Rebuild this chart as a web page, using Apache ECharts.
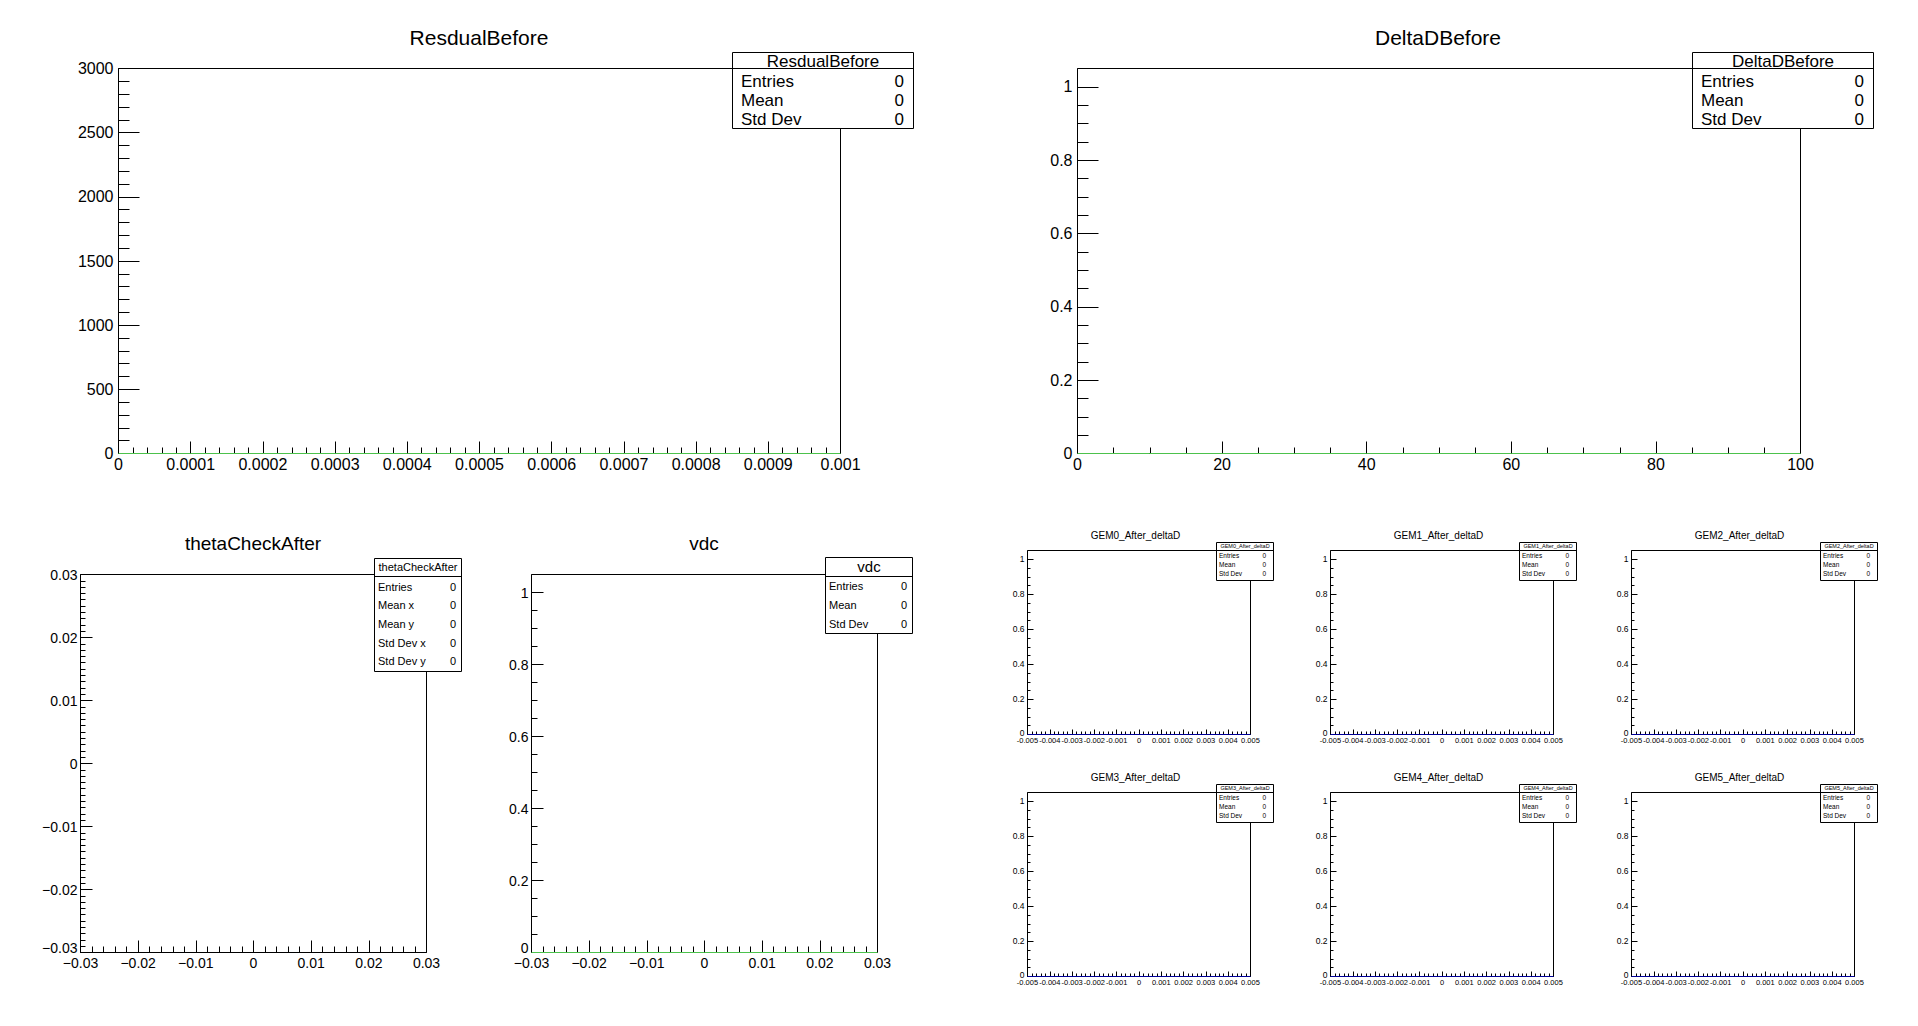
<!DOCTYPE html>
<html>
<head>
<meta charset="utf-8">
<script src="https://cdn.jsdelivr.net/npm/echarts@6/dist/echarts.min.js"></script>
<style>
html,body{margin:0;padding:0;background:#ffffff;}
#chart{width:1918px;height:1026px;}
</style>
</head>
<body>
<div id="chart"></div>
<script>
// ================= DATA =================
const panelTitles = ['ResdualBefore', 'DeltaDBefore', 'thetaCheckAfter', 'vdc'];
const gemTitles = ['GEM0_After_deltaD', 'GEM1_After_deltaD', 'GEM2_After_deltaD',
                   'GEM3_After_deltaD', 'GEM4_After_deltaD', 'GEM5_After_deltaD'];

// axis scales: [min, max, major step, minor step]
const resdualXScale = [0, 0.001, 0.0001, 0.00002];
const resdualYScale = [0, 3000, 500, 100];
const deltaDXScale  = [0, 100, 20, 5];
const deltaDYScale  = [0, 1.05, 0.2, 0.05];
const thetaXScale   = [-0.03, 0.03, 0.01, 0.002];
const thetaYScale   = [-0.03, 0.03, 0.01, 0.001];
const vdcXScale     = [-0.03, 0.03, 0.01, 0.002];
const vdcYScale     = [0, 1.05, 0.2, 0.05];
const gemXScale     = [-0.005, 0.005, 0.001, 0.0002];
const gemYScale     = [0, 1.05, 0.2, 0.05];

// histogram contents (all histograms are empty)
const resdualCounts = [0, 0, 0, 0, 0, 0, 0, 0, 0, 0];
const deltaDCounts  = [0, 0, 0, 0, 0, 0, 0, 0, 0, 0];
const vdcCounts     = [0, 0, 0, 0, 0, 0, 0, 0, 0, 0];
const thetaCheckCells = [];           // 2D histogram, no entries
const gem0Counts = [0, 0, 0, 0, 0, 0, 0, 0, 0, 0];
const gem1Counts = [0, 0, 0, 0, 0, 0, 0, 0, 0, 0];
const gem2Counts = [0, 0, 0, 0, 0, 0, 0, 0, 0, 0];
const gem3Counts = [0, 0, 0, 0, 0, 0, 0, 0, 0, 0];
const gem4Counts = [0, 0, 0, 0, 0, 0, 0, 0, 0, 0];
const gem5Counts = [0, 0, 0, 0, 0, 0, 0, 0, 0, 0];

// statistics boxes
const stats1DNames = ['Entries', 'Mean', 'Std Dev'];
const stats2DNames = ['Entries', 'Mean x', 'Mean y', 'Std Dev x', 'Std Dev y'];
const resdualStats = [0, 0, 0];
const deltaDStats  = [0, 0, 0];
const thetaStats   = [0, 0, 0, 0, 0];
const vdcStats     = [0, 0, 0];
const gem0Stats = [0, 0, 0];
const gem1Stats = [0, 0, 0];
const gem2Stats = [0, 0, 0];
const gem3Stats = [0, 0, 0];
const gem4Stats = [0, 0, 0];
const gem5Stats = [0, 0, 0];

// ================= LAYOUT / STYLE =================
const FONT = '"Liberation Sans", Arial, Helvetica, sans-serif';
const GREEN = '#4cc24c';
const NAVY = '#000099';
const fmtPlain = v => String(parseFloat(Number(v).toPrecision(10)));
const fmtMinus = v => fmtPlain(v).replace('-', '\u2212');

const panels = [
  { title: panelTitles[0], xs: resdualXScale, ys: resdualYScale, counts: resdualCounts, color: GREEN,
    grid: [118, 68, 722, 385], titleXY: [479, 37], titleSize: 21,
    xTick: [12, 6], yTick: [21, 11], xFont: 16, yFont: 16, xMargin: 3, yMargin: 5, fmt: fmtPlain, liftMin: 0,
    box: { x: 732, y: 52, w: 181, h: 76, div: 68, hdrY: 61, hdrFont: 17, rowFont: 17, row0: 81, step: 19, padL: 9, padR: 9 },
    names: stats1DNames, stats: resdualStats },
  { title: panelTitles[1], xs: deltaDXScale, ys: deltaDYScale, counts: deltaDCounts, color: GREEN,
    grid: [1077, 68, 723, 385], titleXY: [1438, 37], titleSize: 21,
    xTick: [12, 6], yTick: [21, 11], xFont: 16, yFont: 16, xMargin: 3, yMargin: 5, fmt: fmtPlain, liftMin: 0,
    box: { x: 1692, y: 52, w: 181, h: 76, div: 68, hdrY: 61, hdrFont: 17, rowFont: 17, row0: 81, step: 19, padL: 9, padR: 9 },
    names: stats1DNames, stats: deltaDStats },
  { title: panelTitles[2], xs: thetaXScale, ys: thetaYScale, counts: null, cells: thetaCheckCells,
    grid: [80, 574, 346, 378], titleXY: [253, 543], titleSize: 19,
    xTick: [12, 6], yTick: [12, 5], xFont: 14, yFont: 14, xMargin: 3, yMargin: 3, fmt: fmtMinus, liftMin: 10,
    box: { x: 374, y: 558, w: 87, h: 113, div: 576, hdrY: 567, hdrFont: 11, rowFont: 11, row0: 586.5, step: 18.7, padL: 4, padR: 5 },
    names: stats2DNames, stats: thetaStats },
  { title: panelTitles[3], xs: vdcXScale, ys: vdcYScale, counts: vdcCounts, color: GREEN,
    grid: [531, 574, 346, 378], titleXY: [704, 543], titleSize: 19,
    xTick: [12, 6], yTick: [12, 6], xFont: 14, yFont: 14, xMargin: 3, yMargin: 3, fmt: fmtMinus, liftMin: 10,
    box: { x: 825, y: 557, w: 87, h: 76, div: 576, hdrY: 566.5, hdrFont: 15, rowFont: 11, row0: 586, step: 19, padL: 4, padR: 5 },
    names: stats1DNames, stats: vdcStats }
];

const gemCounts = [gem0Counts, gem1Counts, gem2Counts, gem3Counts, gem4Counts, gem5Counts];
const gemStats = [gem0Stats, gem1Stats, gem2Stats, gem3Stats, gem4Stats, gem5Stats];
const gemColLeft = [1027, 1330, 1631];
const gemRowTop = [550, 792];
const GW = 223, GH = 184;
for (let k = 0; k < 6; k++) {
  const L = gemColLeft[k % 3], T = gemRowTop[Math.floor(k / 3)], R = L + GW;
  panels.push({
    title: gemTitles[k], xs: gemXScale, ys: gemYScale, counts: gemCounts[k], color: NAVY,
    grid: [L, T, GW, GH], titleXY: [L + GW / 2 - 3, T - 15], titleSize: 10,
    xTick: [5, 3], yTick: [6, 3], xFont: 7.5, yFont: 8.5, xMargin: 2, yMargin: 3, fmt: fmtPlain, liftMin: 4,
    box: { x: R - 34, y: T - 8, w: 57, h: 38, div: T, hdrY: T - 4, hdrFont: 5.5, rowFont: 6.5, row0: T + 5.5, step: 9, padL: 3, padR: 7 },
    names: stats1DNames, stats: gemStats[k]
  });
}

// ================= BUILD OPTION =================
function isMultiple(v, step) {
  const r = v / step;
  return Math.abs(r - Math.round(r)) < 1e-6;
}
function makeAxis(gi, pos, s, step, len, labels, font, margin, fmt, liftMin) {
  const axisLabel = {
    show: labels, fontSize: font, fontFamily: FONT, color: '#000', margin: margin,
    formatter: fmt, showMinLabel: true, showMaxLabel: isMultiple(s[1], step), hideOverlap: false
  };
  if (labels && liftMin) {
    // raise the lowest y label slightly, as ROOT does at the frame corner
    axisLabel.formatter = v => (Math.abs(v - s[0]) < 1e-12 ? '{lo|' + fmt(v) + '}' : fmt(v));
    axisLabel.rich = { lo: { fontSize: font, fontFamily: FONT, color: '#000', padding: [0, 0, liftMin, 0] } };
  }
  return {
    type: 'value', gridIndex: gi, position: pos, offset: 0,
    min: s[0], max: s[1], interval: step, scale: false,
    axisLine: { show: false, onZero: false },
    splitLine: { show: false }, splitArea: { show: false },
    minorTick: { show: false }, minorSplitLine: { show: false },
    axisTick: { show: true, inside: true, length: len, lineStyle: { color: '#000', width: 1 } },
    axisLabel: axisLabel,
    axisPointer: { show: false }, silent: true
  };
}
function histLine(counts, min, max) {
  const w = (max - min) / counts.length;
  const pts = [];
  counts.forEach((c, i) => { pts.push([min + i * w, c]); pts.push([min + (i + 1) * w, c]); });
  return pts;
}
function text(x, y, str, size, align) {
  return {
    type: 'text', x: x, y: y, z: 110, silent: true,
    style: { text: str, fontSize: size, fontFamily: FONT, fill: '#000',
             align: align, textAlign: align, verticalAlign: 'middle', textVerticalAlign: 'middle' }
  };
}

const grids = [], xAxes = [], yAxes = [], series = [], graphics = [];
panels.forEach((p, i) => {
  grids.push({
    left: p.grid[0] + 0.5, top: p.grid[1] + 0.5, width: p.grid[2], height: p.grid[3],
    show: true, borderColor: '#000', borderWidth: 1, backgroundColor: 'rgba(0,0,0,0)',
    containLabel: false, outerBoundsMode: 'none'
  });
  xAxes.push(makeAxis(i, 'bottom', p.xs, p.xs[2], p.xTick[0], true, p.xFont, p.xMargin, p.fmt, 0));
  xAxes.push(makeAxis(i, 'bottom', p.xs, p.xs[3], p.xTick[1], false, p.xFont, p.xMargin, p.fmt, 0));
  yAxes.push(makeAxis(i, 'left', p.ys, p.ys[2], p.yTick[0], true, p.yFont, p.yMargin, p.fmt, p.liftMin));
  yAxes.push(makeAxis(i, 'left', p.ys, p.ys[3], p.yTick[1], false, p.yFont, p.yMargin, p.fmt, 0));

  if (p.counts) {
    series.push({
      type: 'line', xAxisIndex: 2 * i, yAxisIndex: 2 * i,
      data: histLine(p.counts, p.xs[0], p.xs[1]),
      symbol: 'none', showSymbol: false, clip: false, silent: true, z: 5,
      lineStyle: { color: p.color, width: 1 }
    });
  } else {
    series.push({
      type: 'scatter', xAxisIndex: 2 * i, yAxisIndex: 2 * i,
      data: p.cells, symbolSize: 2, silent: true, itemStyle: { color: '#000' }
    });
  }

  // title
  graphics.push(text(p.titleXY[0], p.titleXY[1], p.title, p.titleSize, 'center'));

  // statistics box
  const b = p.box;
  graphics.push({
    type: 'rect', z: 100, silent: true,
    shape: { x: b.x + 0.5, y: b.y + 0.5, width: b.w, height: b.h },
    style: { fill: '#fff', stroke: '#000', lineWidth: 1 }
  });
  graphics.push({
    type: 'line', z: 101, silent: true,
    shape: { x1: b.x + 0.5, y1: b.div + 0.5, x2: b.x + b.w + 0.5, y2: b.div + 0.5 },
    style: { stroke: '#000', lineWidth: 1 }
  });
  graphics.push(text(b.x + b.w / 2 + 0.5, b.hdrY, p.title, b.hdrFont, 'center'));
  p.names.forEach((n, k) => {
    const y = b.row0 + k * b.step;
    graphics.push(text(b.x + b.padL, y, n, b.rowFont, 'left'));
    graphics.push(text(b.x + b.w - b.padR, y, String(p.stats[k]), b.rowFont, 'right'));
  });
});

const chart = echarts.init(document.getElementById('chart'), null, { renderer: 'svg', width: 1918, height: 1026 });
chart.setOption({
  animation: false,
  backgroundColor: '#ffffff',
  tooltip: { show: false },
  grid: grids,
  xAxis: xAxes,
  yAxis: yAxes,
  series: series,
  graphic: { elements: graphics }
});
</script>
</body>
</html>
